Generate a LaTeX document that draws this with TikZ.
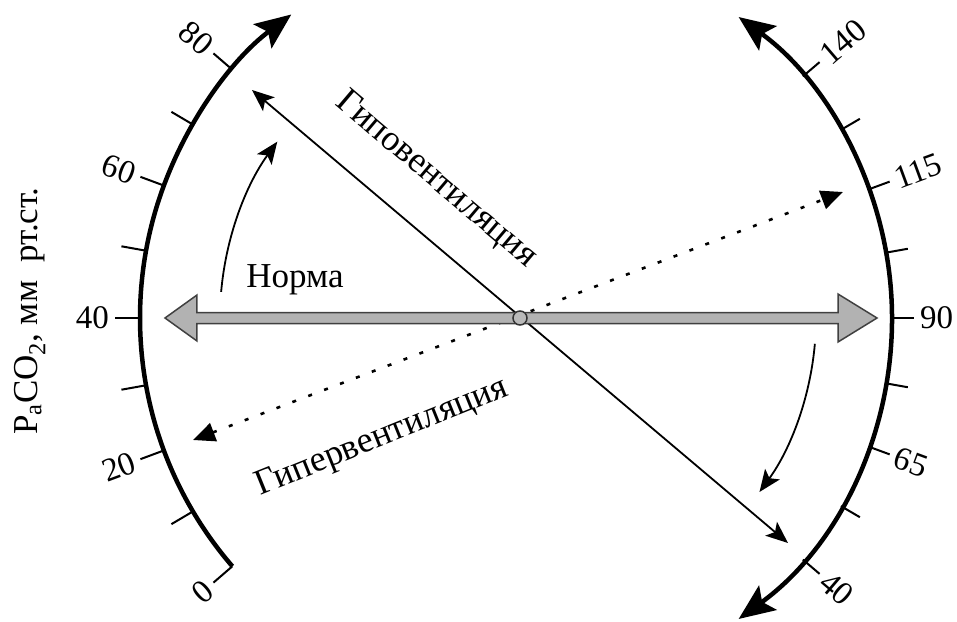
\documentclass[tikz,border=0pt]{standalone}
\usepackage{fontspec}
\setmainfont{Liberation Serif}
\newfontfamily\tnr{Liberation Serif}
\usetikzlibrary{arrows.meta}
\tikzset{
  bighead/.tip={Stealth[length=36pt,width=30pt,inset=7pt]},
  smallhead/.tip={Stealth[length=22pt,width=18pt,inset=5pt]},
  trihead/.tip={Triangle[length=22pt,width=19pt]}
}
\begin{document}
\begin{tikzpicture}[x=1pt,y=1pt,
  bigarc/.style={line width=4.5pt},
  scaletick/.style={line width=2pt},
  lbl/.style={inner sep=0pt, font=\tnr\fontsize{33}{36}\selectfont},
  biglbl/.style={inner sep=0pt, font=\tnr\fontsize{36}{40}\selectfont},
  ray/.style={line width=1.8pt},
  curv/.style={line width=1.8pt},
  dotline/.style={line width=2.6pt, dash pattern=on 4pt off 13pt}
]
\useasboundingbox (-520,-303) rectangle (437,318);

% left scale
\coordinate (lstart) at (220.8:380);
\draw[bigarc, -{bighead}] (lstart) arc[start angle=220.8, end angle=127, radius=380];
\foreach \v in {0,10,...,80} {
  \pgfmathsetmacro\a{180-(\v-40)*1.02}
  \draw[scaletick] (\a:380) -- (\a:405);
}
\foreach \v in {0,20,40,60,80} {
  \pgfmathsetmacro\a{180-(\v-40)*1.02}
  \pgfmathsetmacro\r{\a-180}
  \node[lbl, anchor=east, rotate=\r] (L\v) at (\a:411) {\v};
}

% right scale
\coordinate (rstart) at (-54:372);
\draw[bigarc, {bighead}-{bighead}] (rstart) arc[start angle=-54, end angle=54, radius=372];
\foreach \v in {40,52.5,65,77.5,90,102.5,115,127.5,140} {
  \pgfmathsetmacro\a{(\v-90)*0.81}
  \draw[scaletick] (\a:372) -- (\a:394);
}
\foreach \v in {40,65,90,115,140} {
  \pgfmathsetmacro\a{(\v-90)*0.81}
  \node[lbl, anchor=west, rotate=\a] (R\v) at (\a:400) {\v};
}

% axis label
\node[inner sep=0pt, font=\tnr\fontsize{35}{38}\selectfont, rotate=90] (ylab) at (-490,7)
  {P\textsubscript{a}CO\textsubscript{2}, мм\hspace{18pt}рт.ст.};

% hypoventilation line
\coordinate (hypoA) at (-268,228);
\coordinate (hypoB) at (268,-225);
\draw[ray, {smallhead}-{smallhead}] (hypoA) -- (hypoB);

% hyperventilation dotted line
\coordinate (hyperA) at (-327,-122);
\coordinate (hyperB) at (323,126);
\draw[dotline, {trihead}-{trihead}] (hyperA) -- (hyperB);

% curved arrows
\coordinate (cL) at (175:300);
\draw[curv, -{smallhead}] (cL) arc[start angle=175, end angle=144, radius=300];
\coordinate (cR) at (-5:296);
\draw[curv, -{smallhead}] (cR) arc[start angle=-5, end angle=-36, radius=296];

% norm double arrow
\draw[fill=gray!60, draw=black!75, line width=1.5pt, line join=miter]
  (-355,0) -- (-323,23) -- (-323,5.5) -- (318,5.5) -- (318,24) -- (357,0)
  -- (318,-24) -- (318,-5.5) -- (-323,-5.5) -- (-323,-23) -- cycle;
\node[circle, draw=black!80, fill=gray!55, line width=1.5pt, minimum size=14pt, inner sep=0pt] (O) at (0,0) {};

% texts
\node[inner sep=0pt, font=\tnr\fontsize{35}{38}\selectfont] (norma) at (-225,38) {Норма};
\node[biglbl, rotate=-40.3] (hypo) at (-84,138) {Гиповентиляция};
\node[biglbl, rotate=22] (hyper) at (-138,-120) {Гипервентиляция};
\end{tikzpicture}
\end{document}
